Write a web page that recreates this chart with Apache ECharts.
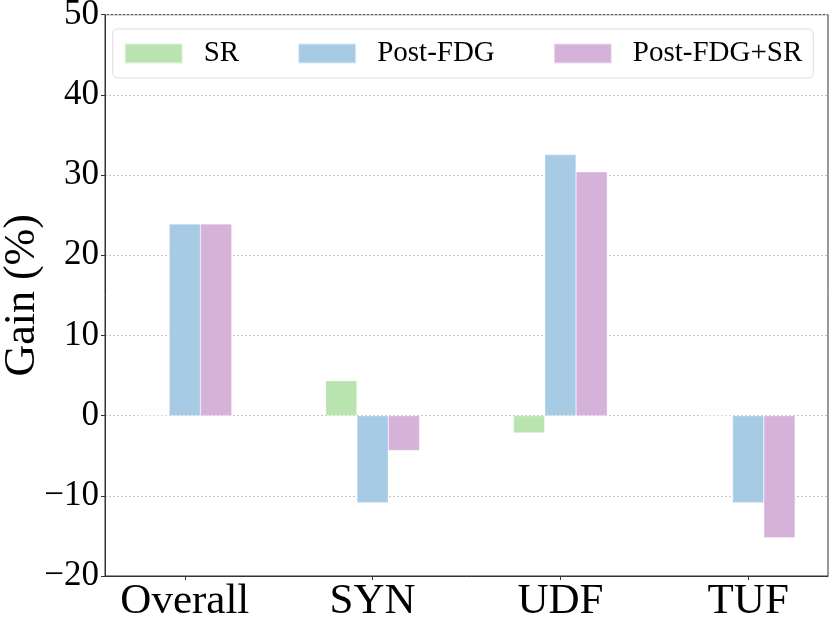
<!DOCTYPE html>
<html>
<head>
<meta charset="utf-8">
<script src="https://cdn.jsdelivr.net/npm/echarts@6/dist/echarts.min.js"></script>
<style>
  html, body { margin: 0; padding: 0; background: #fff; }
  #chart { width: 830px; height: 623px; }
</style>
</head>
<body>
<div id="chart"></div>
<script>
// 数据
var categories = ['Overall', 'SYN', 'UDF', 'TUF'];
var seriesNames = ['SR', 'Post-FDG', 'Post-FDG+SR'];
var srData = [0, 4.36, -2.16, 0];
var postFdgData = [23.9, -10.87, 32.55, -10.87];
var postFdgSrData = [23.9, -4.36, 30.4, -15.23];
var yTicks = [-20, -10, 0, 10, 20, 30, 40, 50];

var colors = ['#b9e4b0', '#a8cbe5', '#d6b2da'];
var fontFamily = "'Liberation Serif', 'Times New Roman', serif";

function toPoints(arr) {
  return arr.map(function (v, i) { return [i, v]; });
}

(function () {
  var myChart = echarts.init(document.getElementById('chart'));
  var plotLeft = 105, plotRight = 828;
  var xMin = -0.425, xMax = categories.length - 1 + 0.425;
  var barW = (plotRight - plotLeft) / (xMax - xMin) / 6;
  var catIdx = categories.map(function (c, i) { return i; });

  var allSeries = [srData, postFdgData, postFdgSrData].map(function (d, k) {
    return {
      name: seriesNames[k],
      type: 'bar',
      data: toPoints(d),
      barWidth: barW,
      barGap: '0%',
      itemStyle: {
        color: colors[k],
        borderColor: 'rgba(255,255,255,0.6)',
        borderWidth: 0.5
      }
    };
  });

  var option = {
    backgroundColor: '#fff',
    animation: false,
    color: colors,
    grid: {
      left: plotLeft,
      right: 830 - plotRight,
      top: 14.7,
      bottom: 623 - 576,
      show: true,
      borderColor: '#333',
      borderWidth: 1,
      containLabel: false,
      outerBoundsMode: 'none'
    },
    legend: {
      data: seriesNames,
      left: 112.7,
      top: 29,
      padding: [10, 11, 10, 11],
      backgroundColor: 'rgba(255,255,255,0.8)',
      borderColor: '#dcdcdc',
      borderWidth: 1,
      borderRadius: 5,
      icon: 'rect',
      itemWidth: 58,
      itemHeight: 20,
      itemGap: 58,
      textStyle: {
        fontFamily: fontFamily,
        fontSize: 29,
        color: '#000',
        lineHeight: 29,
        padding: [0, 0, 0, 16]
      }
    },
    xAxis: {
      type: 'value',
      min: xMin,
      max: xMax,
      axisLine: { show: true, onZero: false, lineStyle: { color: '#333', width: 1 } },
      axisTick: {
        show: true,
        inside: false,
        length: 4,
        customValues: catIdx,
        lineStyle: { color: '#333' }
      },
      axisLabel: {
        customValues: catIdx,
        formatter: function (v) { return categories[Math.round(v)]; },
        fontFamily: fontFamily,
        fontSize: 43,
        color: '#000',
        margin: 4
      },
      splitLine: { show: false }
    },
    yAxis: {
      type: 'value',
      min: yTicks[0],
      max: yTicks[yTicks.length - 1],
      interval: 10,
      name: 'Gain (%)',
      nameLocation: 'middle',
      nameRotate: 90,
      nameGap: 61,
      nameMoveOverlap: false,
      nameTextStyle: {
        fontFamily: fontFamily,
        fontSize: 44,
        color: '#000'
      },
      axisLine: { show: true, onZero: false, lineStyle: { color: '#333', width: 1 } },
      axisTick: { show: true, inside: false, length: 4, lineStyle: { color: '#333' } },
      axisLabel: {
        fontFamily: fontFamily,
        fontSize: 35,
        color: '#000',
        margin: 6,
        formatter: function (v) { return v < 0 ? '\u2212' + Math.abs(v) : String(v); }
      },
      splitLine: {
        show: true,
        lineStyle: { color: '#c4c4c4', type: [2, 2], width: 1 }
      }
    },
    series: allSeries
  };
  myChart.setOption(option);
})();
</script>
</body>
</html>
